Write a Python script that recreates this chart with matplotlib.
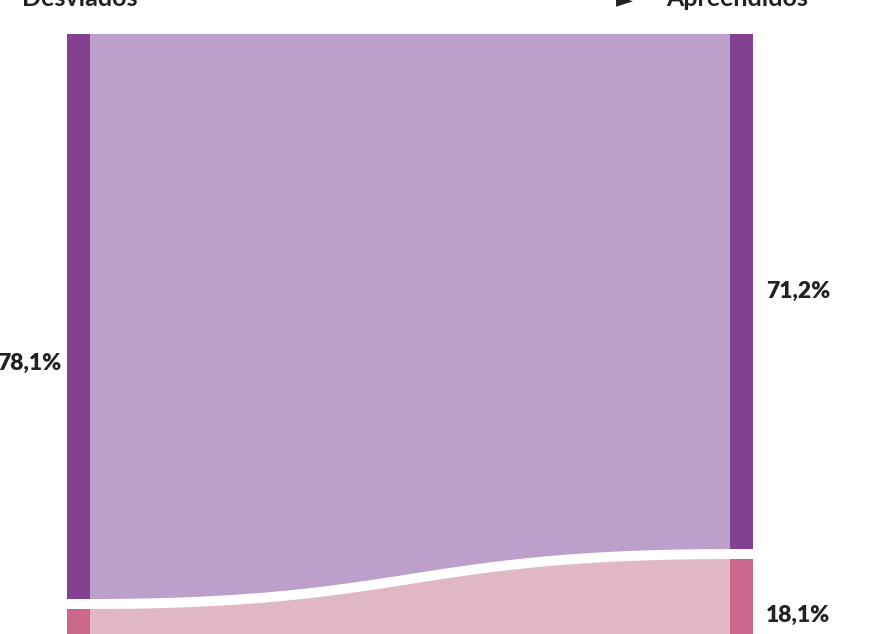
import numpy as np
import matplotlib
import matplotlib.pyplot as plt

matplotlib.use("Agg")

# Data (share of total, %), top to bottom.
stages = ["Desviados", "Apreendidos"]
left_values = [78.1, 21.9]
right_values = [71.2, 18.1]
left_labels = ["78,1%", "21,9%"]
right_labels = ["71,2%", "18,1%"]

node_colors = ["#844091", "#CB678D"]
flow_colors = ["#BC9FCB", "#E2B7C4"]
text_color = "#222222"

# Layout (pixels of the 894x634 output).
W, H = 894, 634
LEFT_X, RIGHT_X = 67, 753  # outer edges of the node columns
NODE_W = 23
TOP = 34
PX_PER_PCT = 565 / 78.1
GAP = 10 / PX_PER_PCT  # gap between stacked nodes, in %

plt.rcParams["font.family"] = ["Lato", "DejaVu Sans"]


def px_x(px):
    return (px - LEFT_X) / (RIGHT_X - LEFT_X)


def px_y(px):
    return (px - TOP) / PX_PER_PCT


def bezier(y0, y1, x0, x1, n=200):
    # Horizontal link curve, control points at the midpoint (d3 style).
    t = np.linspace(0, 1, n)
    xm = (x0 + x1) / 2
    x = (1 - t) ** 3 * x0 + 3 * (1 - t) ** 2 * t * xm + 3 * (1 - t) * t ** 2 * xm + t ** 3 * x1
    y = (1 - t) ** 3 * y0 + 3 * (1 - t) ** 2 * t * y0 + 3 * (1 - t) * t ** 2 * y1 + t ** 3 * y1
    return x, y


def stack(values):
    starts, pos = [], 0.0
    for v in values:
        starts.append(pos)
        pos += v + GAP
    return starts


def main():
    fig = plt.figure(figsize=(W / 100, H / 100), dpi=100)
    ax = fig.add_axes([0, 0, 1, 1])
    ax.set_xlim(px_x(0), px_x(W))
    ax.set_ylim(px_y(H), px_y(0))
    ax.axis("off")

    nw = NODE_W / (RIGHT_X - LEFT_X)
    left_starts = stack(left_values)
    right_starts = stack(right_values)

    # Flows
    for i in range(len(left_values)):
        xt, yt = bezier(left_starts[i], right_starts[i], nw, 1 - nw)
        xb, yb = bezier(
            left_starts[i] + left_values[i],
            right_starts[i] + right_values[i],
            nw,
            1 - nw,
        )
        ax.fill(
            np.concatenate([xt, xb[::-1]]),
            np.concatenate([yt, yb[::-1]]),
            color=flow_colors[i],
            lw=0,
        )

    # Nodes
    ax.bar(0, left_values, bottom=left_starts, width=nw, align="edge",
           color=node_colors, lw=0)
    ax.bar(1 - nw, right_values, bottom=right_starts, width=nw, align="edge",
           color=node_colors, lw=0)

    # Value labels
    label_style = dict(fontsize=16.5, fontweight="heavy", color=text_color, va="center")
    ax.text(px_x(61), px_y(363), left_labels[0], ha="right", **label_style)
    ax.text(px_x(766), right_starts[0] + right_values[0] / 2, right_labels[0],
            ha="left", **label_style)
    ax.text(px_x(766), px_y(615), right_labels[1], ha="left", **label_style)

    # Stage titles (cut by the top edge)
    title_style = dict(fontsize=18, fontweight="bold", color=text_color, va="baseline")
    ax.text(px_x(22), px_y(6), stages[0], ha="left", **title_style)
    ax.text(px_x(666), px_y(6), stages[1], ha="left", **title_style)
    ax.text(px_x(616), px_y(6), "\u25BA", ha="left", fontsize=16,
            color=text_color, va="baseline", family="DejaVu Sans")

    fig.savefig("out.png", dpi=100)
    plt.close("all")


if __name__ == "__main__":
    main()
